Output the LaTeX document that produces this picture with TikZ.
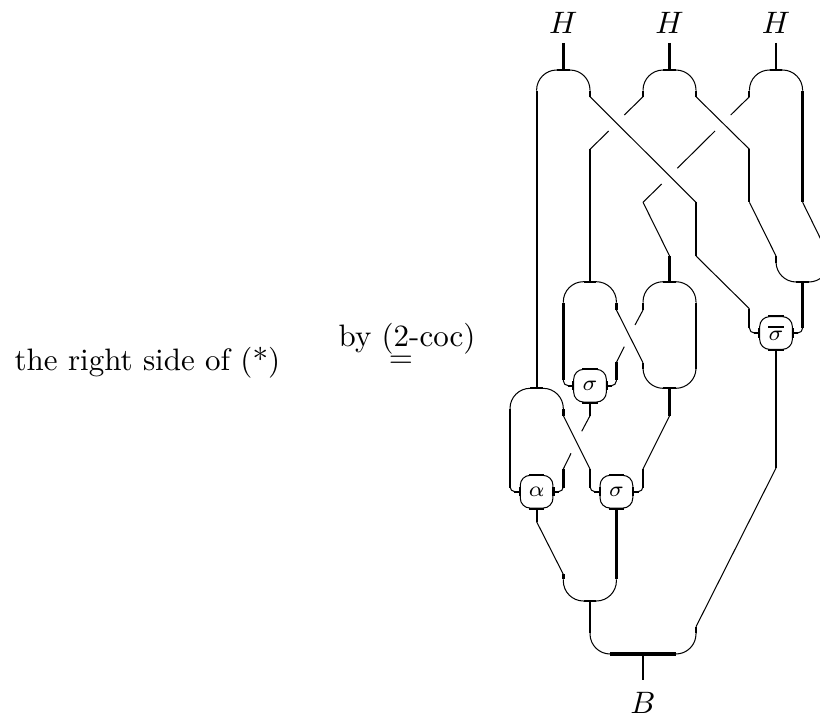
\documentclass[tikz,border=0pt]{standalone}

\newcommand{\boxticks}[1]{
  \path[wire]
    ([xshift=-2.5pt]#1.north) edge ([xshift=2.5pt]#1.north)
    ([xshift=-2.5pt]#1.south) edge ([xshift=2.5pt]#1.south)
    ([yshift=-1.5pt]#1.west) edge ([yshift=1.5pt]#1.west)
    ([yshift=-1.5pt]#1.east) edge ([yshift=1.5pt]#1.east)
    ([xshift=-1.8pt]#1.west) edge (#1.west)
    ([xshift=1.8pt]#1.east) edge (#1.east);
}
\newcommand{\captick}[1]{
  \path[wire] ([xshift=-2pt]#1) edge ([xshift=2pt]#1);
}

\begin{document}
\begin{tikzpicture}[x=.3226pt,y=-.3226pt,
  thinline/.style={line width=.33pt},
  wire/.style={line width=.68pt},
  widewire/.style={line width=1.1pt},
  capline/.style={thinline,rounded corners=6.5pt},
  bendline/.style={thinline,rounded corners=1.6pt},
  twist box/.style={draw,thinline,rounded corners=3.2pt,minimum size=10.55pt,inner sep=0pt,font=\scriptsize},
  label node/.style={inner sep=0pt,anchor=base}]

  \useasboundingbox (0,0) rectangle (820,717);

  % texts
  \node[label node,anchor=base west] (lhs) at (14,370) {the right side of (*)};
  \node[label node,anchor=base west] (bytext) at (338,346.7) {by (2-coc)};
  \node[inner sep=0pt] (eq) at (401,362) {$=$};
  \node[label node] (h1) at (563.3,33.3) {$H$};
  \node[label node] (h2) at (669.6,33.3) {$H$};
  \node[label node] (h3) at (776,33.3) {$H$};
  \node[label node] (b) at (643,713) {$B$};

  % boxes
  \node[twist box] (s1) at (590,385.7) {$\sigma$};
  \node[twist box] (sb) at (776,333) {$\overline{\sigma}$};
  \node[twist box] (a1) at (536.6,491.7) {$\alpha$};
  \node[twist box] (s2) at (616.4,491.7) {$\sigma$};

  % caps and cups
  \coordinate (ca-l) at (536.6,90.7); \coordinate (ca-t) at (563.3,70); \coordinate (ca-r) at (590,90.7);
  \coordinate (cb-l) at (643,90.7); \coordinate (cb-t) at (669.6,70); \coordinate (cb-r) at (696,90.7);
  \coordinate (cc-l) at (749.4,90.7); \coordinate (cc-t) at (776,70); \coordinate (cc-r) at (802.6,90.7);
  \coordinate (cd-l) at (563.3,302.7); \coordinate (cd-t) at (590,281.7); \coordinate (cd-r) at (616.4,302.7);
  \coordinate (ce-l) at (643,302.7); \coordinate (ce-t) at (669.6,281.7); \coordinate (ce-r) at (696,302.7);
  \coordinate (cf-l) at (643,369); \coordinate (cf-b) at (669.6,388.3); \coordinate (cf-r) at (696,369);
  \coordinate (cg-l) at (776,263.3); \coordinate (cg-b) at (802.6,282); \coordinate (cg-r) at (829,263.3);
  \coordinate (ch-l) at (510,409); \coordinate (ch-t) at (536.6,388.3); \coordinate (ch-r) at (563.3,409);
  \coordinate (ci-l) at (563.3,579.3); \coordinate (ci-b) at (590,601); \coordinate (ci-r) at (616.4,579.3);
  \coordinate (cj-l) at (590,633); \coordinate (cj-b) at (643,654); \coordinate (cj-r) at (696,633);

  % strand ends
  \coordinate (h1a) at (563.3,43); \coordinate (h2a) at (669.6,43); \coordinate (h3a) at (776,43);
  \coordinate (ba) at (643,680);
  \coordinate (d1) at (590,96.7); \coordinate (d2) at (696,202.3); \coordinate (d3) at (696,256);
  \coordinate (d4) at (749.4,308.7); \coordinate (d5) at (749.4,328);
  \coordinate (e1) at (643,96.7); \coordinate (e2) at (624.3,115); \coordinate (e3) at (608.7,131); \coordinate (e4) at (590,149.3);
  \coordinate (f1) at (696,96.7); \coordinate (f2) at (749.4,149.3); \coordinate (f3) at (749.4,202.3); \coordinate (f4) at (776,256);
  \coordinate (g1) at (749.4,96.7); \coordinate (g2) at (730.7,115); \coordinate (g3) at (715,131); \coordinate (g4) at (677.3,168.3);
  \coordinate (g5) at (661.7,184); \coordinate (g6) at (643,202.3); \coordinate (g7) at (669.6,256);
  \coordinate (k1) at (802.6,202.3); \coordinate (k2) at (829,256);
  \coordinate (m1) at (802.6,328);
  \coordinate (n1) at (776,468); \coordinate (n2) at (696,626.7);
  \coordinate (p1) at (616.4,310); \coordinate (p2) at (643,362.7);
  \coordinate (q1) at (643,310); \coordinate (q2) at (635,325); \coordinate (q3) at (624.3,346.7);
  \coordinate (q4) at (616.4,362.3); \coordinate (q5) at (616.4,380);
  \coordinate (r1) at (563.3,380);
  \coordinate (t1) at (669.6,415.7); \coordinate (t2) at (643,469); \coordinate (t3) at (643,487.7);
  \coordinate (u1) at (590,415.7); \coordinate (u2) at (581.7,431.3); \coordinate (u3) at (571,453.3);
  \coordinate (u4) at (563.3,469); \coordinate (u5) at (563.3,487.7);
  \coordinate (v1) at (510,487.7);
  \coordinate (w1) at (563.3,415.7); \coordinate (w2) at (590,469); \coordinate (w3) at (590,487.7);
  \coordinate (z1) at (536.6,521.7); \coordinate (z2) at (563.3,574.3);

  \draw[capline] (ca-t) -| (ca-l) (ca-t) -| (ca-r);
  \draw[capline] (cb-t) -| (cb-l) (cb-t) -| (cb-r);
  \draw[capline] (cc-t) -| (cc-l) (cc-t) -| (cc-r);
  \draw[capline] (cd-t) -| (cd-l) (cd-t) -| (cd-r);
  \draw[capline] (ce-t) -| (ce-l) (ce-t) -| (ce-r);
  \draw[capline] (cf-b) -| (cf-l) (cf-b) -| (cf-r);
  \draw[capline] (cg-b) -| (cg-l) (cg-b) -| (cg-r);
  \draw[capline] (ch-t) -| (ch-l) (ch-t) -| (ch-r);
  \draw[capline] (ci-b) -| (ci-l) (ci-b) -| (ci-r);
  \draw[capline] (cj-b) -| (cj-l) (cj-b) -| (cj-r);
  \captick{ca-t} \captick{cb-t} \captick{cc-t} \captick{cd-t} \captick{ce-t}
  \captick{cf-b} \captick{cg-b} \captick{ch-t} \captick{ci-b}
  \path[widewire] ([xshift=-10.5pt]cj-b) edge ([xshift=10.5pt]cj-b);

  % slanted and crossing parts
  \path[thinline]
    (d1) edge (d2)
    (d3) edge (d4)
    (e1) edge (e2)
    (e3) edge (e4)
    (f1) edge (f2)
    (f3) edge (f4)
    (g1) edge (g2)
    (g3) edge (g4)
    (g5) edge (g6)
    (g6) edge (g7)
    (k1) edge (k2)
    (n1) edge (n2)
    (p1) edge (p2)
    (q1) edge (q2)
    (q3) edge (q4)
    (t1) edge (t2)
    (u1) edge (u2)
    (u3) edge (u4)
    (w1) edge (w2)
    (z1) edge (z2);

  % upright parts
  \path[wire]
    (h3a) edge (cc-t)
    (ca-l) edge (ch-t)
    (ca-r) edge (d1)
    (d2) edge (d3)
    (d4) edge (d5)
    (cb-l) edge (e1)
    (e4) edge (cd-t)
    (cb-r) edge (f1)
    (f2) edge (f3)
    (f4) edge (cg-l)
    (cc-l) edge (g1)
    (sb.south) edge (n1)
    (n2) edge (cj-r)
    (q1) edge (ce-l)
    (p2) edge (cf-l)
    (ce-r) edge (cf-r)
    (t2) edge (t3)
    (s1.south) edge (u1)
    (ch-l) edge (v1)
    (w2) edge (w3)
    (a1.south) edge (z1)
    (ci-b) edge (cj-l)
    (cj-b) edge (ba);
  \path[widewire]
    (h1a) edge (ca-t)
    (h2a) edge (cb-t)
    (cc-r) edge (k1)
    (g7) edge (ce-t)
    (cg-b) edge (m1)
    (cd-l) edge (r1)
    (cd-r) edge (p1)
    (q4) edge (q5)
    (cf-b) edge (t1)
    (u4) edge (u5)
    (ch-r) edge (w1)
    (z2) edge (ci-l)
    (s2.south) edge (ci-r);

  % small bends into the boxes
  \draw[bendline] (d5) |- (sb.west);
  \draw[bendline] (m1) |- (sb.east);
  \draw[bendline] (r1) |- (s1.west);
  \draw[bendline] (q5) |- (s1.east);
  \draw[bendline] (v1) |- (a1.west);
  \draw[bendline] (u5) |- (a1.east);
  \draw[bendline] (w3) |- (s2.west);
  \draw[bendline] (t3) |- (s2.east);
  \boxticks{s1} \boxticks{sb} \boxticks{a1} \boxticks{s2}

\end{tikzpicture}
\end{document}
